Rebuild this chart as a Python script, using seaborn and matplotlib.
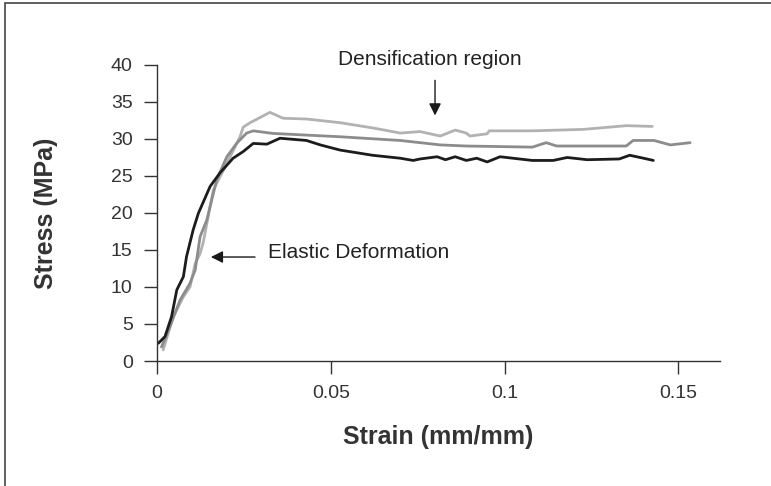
import matplotlib
matplotlib.use("Agg")
import matplotlib.pyplot as plt
import matplotlib.patches as mpatches
import seaborn as sns
import pandas as pd

# ---- data ----
strain_black = [0.0004, 0.0023, 0.0042, 0.0057, 0.0076, 0.0085, 0.0104, 0.0119, 0.0153, 0.0181,
                0.0219, 0.0248, 0.0277, 0.0316, 0.0354, 0.043, 0.047, 0.0527, 0.062, 0.07,
                0.0737, 0.0757, 0.0806, 0.083, 0.0858, 0.089, 0.092, 0.095, 0.0987, 0.108,
                0.114, 0.118, 0.1238, 0.133, 0.136, 0.14, 0.1428]
stress_black = [2.4, 3.3, 6.0, 9.6, 11.4, 14.1, 17.7, 19.95, 23.6, 25.4,
                27.4, 28.3, 29.4, 29.3, 30.1, 29.8, 29.2, 28.5, 27.8, 27.4,
                27.1, 27.3, 27.6, 27.2, 27.6, 27.1, 27.4, 26.9, 27.6, 27.1,
                27.1, 27.5, 27.2, 27.3, 27.8, 27.4, 27.1]

strain_light = [0.0018, 0.0046, 0.0075, 0.0095, 0.011, 0.0124, 0.0133, 0.0162, 0.0201, 0.0239,
                0.0248, 0.0268, 0.0325, 0.0363, 0.043, 0.0527, 0.062, 0.07, 0.0757, 0.0815,
                0.0858, 0.089, 0.090, 0.095, 0.0956, 0.108, 0.1228, 0.135, 0.1425]
stress_light = [1.5, 5.9, 8.6, 10.0, 13.2, 14.5, 16.0, 23.1, 26.7, 30.3,
                31.6, 32.2, 33.6, 32.8, 32.7, 32.2, 31.5, 30.8, 31.0, 30.4,
                31.2, 30.8, 30.4, 30.7, 31.1, 31.1, 31.3, 31.8, 31.7]

strain_mid = [0.0013, 0.0037, 0.0066, 0.0095, 0.011, 0.0124, 0.0143, 0.0172, 0.0201, 0.0229,
              0.0258, 0.0277, 0.0334, 0.0527, 0.07, 0.0815, 0.089, 0.108, 0.112, 0.115,
              0.135, 0.137, 0.143, 0.1477, 0.1534]
stress_mid = [1.9, 4.6, 8.2, 10.5, 12.3, 16.8, 19.0, 24.5, 27.6, 29.4,
              30.8, 31.1, 30.75, 30.3, 29.8, 29.2, 29.05, 28.9, 29.5, 29.05,
              29.05, 29.8, 29.8, 29.2, 29.5]

series_names = ["Sample A", "Sample B", "Sample C"]
x_ticks = [0, 0.05, 0.1, 0.15]
x_tick_labels = ["0", "0.05", "0.1", "0.15"]
y_ticks = [0, 5, 10, 15, 20, 25, 30, 35, 40]

frames = []
for name, xs, ys in zip(series_names,
                        [strain_light, strain_mid, strain_black],
                        [stress_light, stress_mid, stress_black]):
    frames.append(pd.DataFrame({"strain": xs, "stress": ys, "sample": name}))
df = pd.concat(frames, ignore_index=True)

sns.set_style("white")
plt.rcParams["font.family"] = ["Liberation Sans", "DejaVu Sans"]

fig = plt.figure(figsize=(7.71, 4.86), dpi=100)
ax = fig.add_axes([0.2036, 0.2572, 0.7303, 0.6091])

palette = {"Sample A": "#b2b2b2", "Sample B": "#8c8c8c", "Sample C": "#1c1c1c"}
sns.lineplot(data=df, x="strain", y="stress", hue="sample", units="sample",
             estimator=None, sort=False, palette=palette, linewidth=2.0,
             legend=False, ax=ax)

ax.set_xlim(0, 0.162)
ax.set_ylim(0, 40)
ax.set_xticks(x_ticks)
ax.set_xticklabels(x_tick_labels)
ax.set_yticks(y_ticks)
for s in ["top", "right"]:
    ax.spines[s].set_visible(False)
for s in ["left", "bottom"]:
    ax.spines[s].set_color("#333333")
    ax.spines[s].set_linewidth(1.0)
ax.tick_params(axis="both", direction="out", length=9.5, width=1.0, color="#333333",
               labelsize=14, labelcolor="#333333", pad=8, left=True, bottom=True)

ax.set_xlabel("Strain (mm/mm)", fontsize=18, fontweight="bold", color="#333333", labelpad=16)
ax.set_ylabel("Stress (MPa)", fontsize=18, fontweight="bold", color="#333333", labelpad=38)

# annotations
ax.annotate("", xy=(0.080, 32.8), xytext=(0.080, 38.3),
            arrowprops=dict(arrowstyle="-|>", color="#1a1a1a", lw=1.0,
                            mutation_scale=18), annotation_clip=False)
ax.text(0.0786, 40.7, "Densification region", fontsize=15, color="#222222",
        ha="center", va="center", clip_on=False)

ax.annotate("", xy=(0.0147, 14.05), xytext=(0.029, 14.05),
            arrowprops=dict(arrowstyle="-|>", color="#1a1a1a", lw=1.0,
                            mutation_scale=18), annotation_clip=False)
ax.text(0.0318, 14.6, "Elastic Deformation", fontsize=15, color="#222222",
        ha="left", va="center")

# outer frame
fig.patches.append(mpatches.Rectangle((0.007, -0.02), 1.02, 1.014,
                                      transform=fig.transFigure, fill=False,
                                      edgecolor="#444444", linewidth=1.2))

fig.savefig("out.png", dpi=100)
